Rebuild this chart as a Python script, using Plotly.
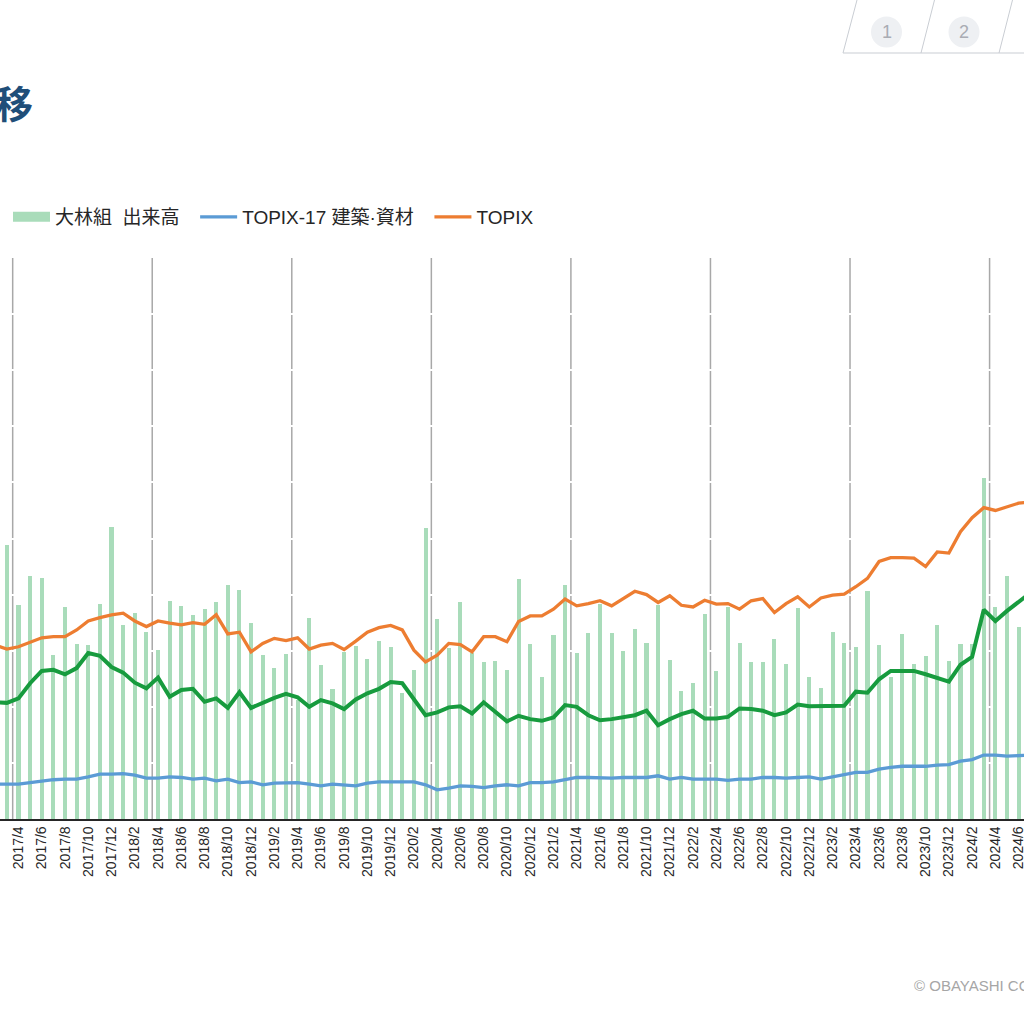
import plotly.graph_objects as go

# ---------------- data ----------------
months = []
for yr in range(2017, 2025):
    for mo in range(1, 13):
        if (yr == 2017 and mo < 2) or (yr == 2024 and mo > 7):
            continue
        months.append(f"{yr}/{mo}")

# 大林組 出来高 (bars)
volume = [
    22.0, 24.4, 19.1, 21.7, 21.5, 14.6, 18.9, 15.6, 15.5, 19.2, 26.0,
    17.3, 18.4, 16.7, 15.1, 19.4, 19.0, 18.2, 18.7, 19.3, 20.9, 20.4, 17.5,
    14.6, 13.5, 14.7, 10.6, 17.9, 13.7, 11.6, 14.9, 15.4, 14.3, 15.9, 15.3,
    11.2, 13.3, 25.9, 17.8, 15.2, 19.3, 14.8, 14.0, 14.1, 13.3, 21.4, 15.6,
    12.7, 16.4, 20.9, 14.8, 16.6, 19.2, 16.6, 15.0, 16.9, 15.7, 19.1, 14.2,
    11.4, 12.1, 18.3, 13.2, 18.9, 15.7, 14.0, 14.0, 16.0, 13.8, 18.8, 12.7,
    11.7, 16.7, 15.7, 15.3, 20.3, 15.5, 12.7, 16.5, 13.8, 14.5, 17.3, 14.1,
    15.6, 15.6, 30.4, 18.9, 21.7, 17.1, 16.0,
]

# 大林組 株価 (green line)
obayashi = [
    20.8, 20.7, 21.5, 24.2, 26.4, 26.6, 25.8, 26.9, 29.6, 29.1, 27.1,
    26.1, 24.3, 23.3, 25.2, 21.8, 23.0, 23.2, 20.9, 21.5, 19.8, 22.6, 19.8,
    20.7, 21.6, 22.3, 21.7, 20.0, 21.2, 20.6, 19.6, 21.3, 22.4, 23.2, 24.4,
    24.2, 21.4, 18.5, 19.0, 19.9, 20.1, 18.8, 20.8, 19.1, 17.4, 18.4, 17.8,
    17.5, 18.1, 20.3, 20.0, 18.5, 17.6, 17.8, 18.2, 18.5, 19.3, 16.7, 17.8,
    18.7, 19.3, 17.9, 17.9, 18.2, 19.7, 19.6, 19.3, 18.5, 19.0, 20.4, 20.1,
    20.1, 20.1, 20.2, 22.7, 22.5, 24.9, 26.4, 26.4, 26.4, 25.8, 25.1, 24.5,
    27.5, 28.9, 37.3, 35.3, 37.1, 38.7, 40.3,
]

# TOPIX-17 建築・資材 (blue line)
topix17 = [
    6.2, 6.2, 6.2, 6.5, 6.8, 7.0, 7.1, 7.1, 7.5, 8.0, 8.0,
    8.1, 7.8, 7.3, 7.3, 7.5, 7.4, 7.1, 7.3, 6.8, 7.1, 6.5, 6.6,
    6.1, 6.4, 6.5, 6.5, 6.2, 5.9, 6.2, 6.1, 5.9, 6.4, 6.6, 6.6,
    6.6, 6.6, 6.1, 5.2, 5.5, 5.9, 5.8, 5.6, 5.9, 6.1, 5.9, 6.5,
    6.5, 6.6, 7.0, 7.4, 7.4, 7.3, 7.3, 7.4, 7.4, 7.4, 7.7, 7.1,
    7.4, 7.1, 7.1, 7.1, 6.9, 7.1, 7.1, 7.4, 7.4, 7.3, 7.4, 7.5,
    7.1, 7.5, 7.8, 8.3, 8.3, 8.9, 9.2, 9.4, 9.4, 9.4, 9.6, 9.7,
    10.3, 10.6, 11.4, 11.4, 11.2, 11.3, 11.4,
]

# TOPIX (orange line)
topix = [
    31.0, 30.3, 30.7, 31.5, 32.3, 32.5, 32.5, 33.7, 35.3, 35.9, 36.4,
    36.7, 35.3, 34.3, 35.3, 34.9, 34.6, 35.0, 34.7, 36.4, 33.0, 33.3, 29.8,
    31.3, 32.2, 31.8, 32.3, 30.3, 31.0, 31.3, 30.2, 31.7, 33.3, 34.1, 34.5,
    33.7, 30.1, 28.0, 29.2, 31.3, 31.1, 29.8, 32.5, 32.5, 31.6, 35.2, 36.2,
    36.2, 37.4, 39.2, 38.0, 38.4, 38.9, 38.0, 39.3, 40.6, 40.0, 38.6, 39.8,
    38.1, 37.8, 39.0, 38.3, 38.4, 37.4, 38.9, 39.3, 36.8, 38.4, 39.6, 37.8,
    39.4, 39.9, 40.1, 41.4, 42.9, 45.9, 46.6, 46.6, 46.5, 45.0, 47.6, 47.4,
    51.2, 53.7, 55.5, 55.0, 55.7, 56.3, 56.5,
]

tick_labels = months[::2]
series_names = ["大林組  出来高", "TOPIX-17 建築·資材", "TOPIX", "大林組 株価"]
nav_labels = ["1", "2"]

# ---------------- styling ----------------
W = H = 1024
BAR_C = "#A9DCBA"
GREEN = "#179B3E"
BLUE = "#5B9BD5"
ORANGE = "#ED7D31"
FONT = "Liberation Sans, Arial, Noto Sans CJK JP, sans-serif"
CJK = "Noto Sans CJK JP, sans-serif"
PAD = "\u00a0\u00a0"  # extra room after a legend entry


def px(x):
    return x / W


def py(y):
    return 1 - y / H


PLOT_TOP, PLOT_BOT = 258, 819

fig = go.Figure()
fig.add_trace(go.Bar(x=months, y=volume, name=series_names[0], marker_color=BAR_C,
                     width=0.35, showlegend=False, yaxis="y"))
fig.add_trace(go.Scatter(x=months, y=obayashi, name=series_names[3], mode="lines",
                         line=dict(color=GREEN, width=4), showlegend=False, yaxis="y2"))
fig.add_trace(go.Scatter(x=months, y=topix17, name=series_names[1], mode="lines",
                         line=dict(color=BLUE, width=3.3), showlegend=False, yaxis="y2"))
fig.add_trace(go.Scatter(x=months, y=topix, name=series_names[2], mode="lines",
                         line=dict(color=ORANGE, width=3.3), showlegend=False, yaxis="y2"))
# legend entries
fig.add_trace(go.Scatter(x=[None], y=[None], name=series_names[0] + PAD, mode="lines",
                         line=dict(color=BAR_C, width=12), yaxis="y2"))
fig.add_trace(go.Scatter(x=[None], y=[None], name=series_names[1] + PAD, mode="lines",
                         line=dict(color=BLUE, width=3.3), yaxis="y2"))
fig.add_trace(go.Scatter(x=[None], y=[None], name=series_names[2], mode="lines",
                         line=dict(color=ORANGE, width=3.3), yaxis="y2"))

# fiscal-year separators (between March and April)
shapes = []
for i, m in enumerate(months):
    if m.endswith("/4") and i > 0:
        shapes.append(dict(type="line", xref="x", yref="paper", x0=i - 0.5, x1=i - 0.5,
                           y0=py(PLOT_BOT), y1=py(PLOT_TOP), layer="below",
                           line=dict(color="#A8A8A8", width=1.5)))

# navigation tabs at top right
shapes.append(dict(type="line", xref="paper", yref="paper", x0=px(843), x1=px(1024),
                   y0=py(53), y1=py(53), line=dict(color="#C9CDD3", width=1)))
for xb, xt in [(843, 857), (921, 934.5), (999, 1012.5)]:
    shapes.append(dict(type="line", xref="paper", yref="paper", x0=px(xb), x1=px(xt),
                       y0=py(53), y1=py(0), line=dict(color="#C9CDD3", width=1)))
for cx in [886.5, 964]:
    shapes.append(dict(type="circle", xref="paper", yref="paper", x0=px(cx - 15.5), x1=px(cx + 15.5),
                       y0=py(32 + 15.5), y1=py(32 - 15.5), fillcolor="#EEF0F3",
                       line=dict(width=0)))

annotations = [
    dict(text="株価推移", xref="paper", yref="paper", x=px(35), y=py(101), xanchor="right",
         yanchor="middle", showarrow=False,
         font=dict(family=CJK, size=38, color="#1F4E79", weight=700)),
    dict(text="© OBAYASHI CORPORATION", xref="paper", yref="paper", x=px(912), y=py(985),
         xanchor="left", yanchor="middle", showarrow=False,
         font=dict(family=FONT, size=15, color="#A6A6A6")),
]
for lab, cx in zip(nav_labels, [886.5, 964]):
    annotations.append(dict(text=lab, xref="paper", yref="paper", x=px(cx), y=py(32),
                            xanchor="center", yanchor="middle", showarrow=False,
                            font=dict(family=FONT, size=18, color="#A9ACB3")))

fig.update_layout(
    template="none",
    width=W, height=H,
    margin=dict(l=0, r=0, t=0, b=0, autoexpand=False),
    paper_bgcolor="white", plot_bgcolor="white",
    bargap=0,
    font=dict(family=FONT, size=14, color="#262626"),
    showlegend=True,
    legend=dict(orientation="h", x=px(8), y=py(217), xanchor="left", yanchor="middle",
                font=dict(family=FONT, size=19, color="#262626"), itemwidth=37,
                bgcolor="rgba(0,0,0,0)", traceorder="normal"),
    xaxis=dict(type="category", range=[0.41, 88.46], domain=[0, 1],
               tickmode="array", tickvals=tick_labels, ticktext=tick_labels,
               tickangle=-90, tickfont=dict(size=14, color="#262626", family=FONT),
               showgrid=False, showline=True, linecolor="#262626", linewidth=1.5,
               ticks="", automargin=False, zeroline=False),
    yaxis=dict(range=[0, 50], dtick=5, domain=[py(PLOT_BOT), py(PLOT_TOP)],
               showticklabels=False, showgrid=True, gridcolor="white", gridwidth=2,
               zeroline=False, ticks="", automargin=False),
    yaxis2=dict(range=[0, 100], overlaying="y", side="right", showticklabels=False,
                showgrid=False, zeroline=False, ticks="", automargin=False),
    shapes=shapes,
    annotations=annotations,
)

fig.write_html("out.html")
